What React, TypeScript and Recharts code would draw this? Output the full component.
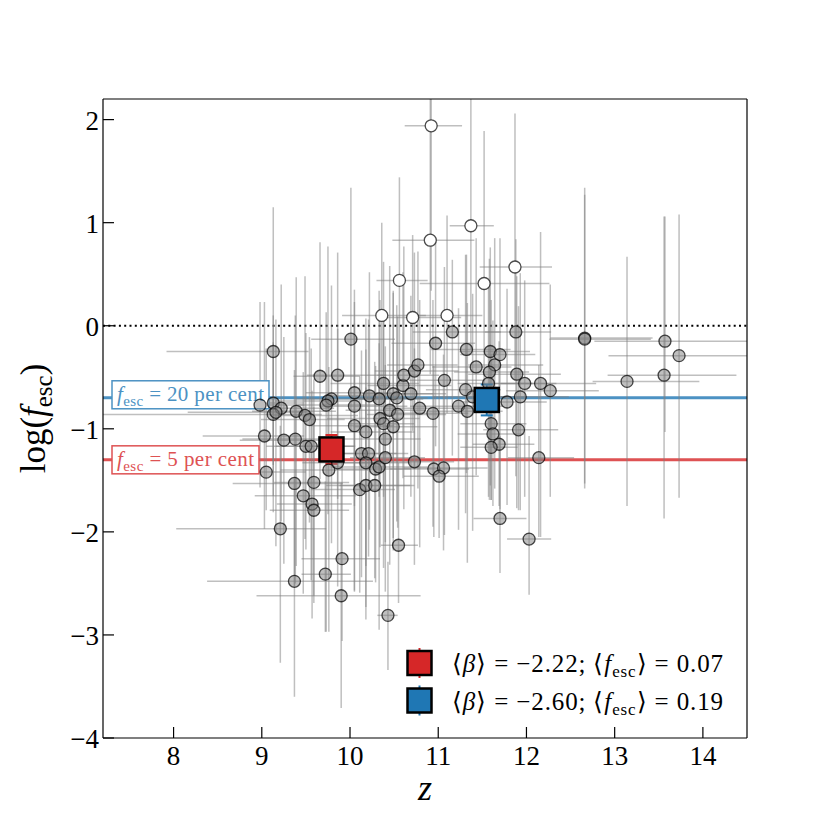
import React from 'react';
import { ComposedChart, Scatter, XAxis, YAxis, ErrorBar, ReferenceLine, Legend } from 'recharts';

const FONT = '"Liberation Serif", "Times New Roman", serif';

const zTicks = [8, 9, 10, 11, 12, 13, 14];
const logTicks = [-4, -3, -2, -1, 0, 1, 2];
const zDomain: [number, number] = [7.2, 14.5];
const logDomain: [number, number] = [-4, 2.2];

// [z, log fesc, z err low, z err high, log err low, log err high] (error bars as seen inside the frame)
const detectedPoints: number[][] = [
  [9.13, -0.25, 1.21, 0.40, 1.10, 1.40],
  [10.01, -0.13, 0.45, 0.50, 0.90, 1.47],
  [9.66, -0.49, 0.30, 0.45, 1.00, 1.30],
  [9.86, -0.48, 0.35, 0.55, 1.20, 1.19],
  [8.98, -0.77, 0.60, 0.50, 0.80, 1.00],
  [9.13, -0.75, 0.80, 0.35, 0.90, 0.85],
  [9.22, -0.80, 0.45, 0.60, 1.10, 1.20],
  [9.13, -0.86, 1.93, 0.55, 0.95, 0.70],
  [9.16, -0.84, 1.00, 0.40, 1.30, 0.90],
  [9.39, -0.83, 0.50, 0.45, 1.50, 1.30],
  [9.49, -0.87, 0.35, 0.60, 1.20, 1.35],
  [9.54, -0.91, 0.55, 0.40, 1.00, 0.80],
  [9.79, -0.71, 0.40, 0.55, 1.40, 1.10],
  [9.75, -0.73, 0.60, 0.35, 1.10, 1.50],
  [9.73, -0.77, 0.35, 0.60, 2.20, 0.90],
  [10.05, -0.65, 0.55, 0.45, 1.10, 1.00],
  [10.05, -0.78, 0.40, 0.60, 1.80, 0.80],
  [10.22, -0.68, 0.45, 0.35, 1.30, 1.20],
  [10.33, -0.71, 0.30, 0.50, 0.95, 1.05],
  [10.38, -0.56, 0.60, 0.40, 1.10, 1.18],
  [10.49, -0.66, 0.35, 0.45, 1.40, 1.00],
  [10.53, -0.70, 0.50, 0.35, 1.20, 0.90],
  [10.60, -0.58, 0.40, 0.55, 0.90, 1.10],
  [10.61, -0.48, 0.30, 0.40, 1.30, 1.25],
  [10.73, -0.44, 0.45, 0.50, 0.95, 1.15],
  [10.77, -0.38, 0.35, 0.45, 1.20, 1.10],
  [10.69, -0.66, 0.55, 0.40, 1.00, 0.95],
  [10.79, -0.80, 0.40, 0.60, 1.35, 1.05],
  [10.45, -0.82, 0.50, 0.40, 1.50, 1.40],
  [10.54, -0.86, 0.35, 0.55, 1.10, 0.95],
  [10.34, -0.90, 0.60, 0.45, 1.25, 1.15],
  [10.38, -0.95, 0.40, 0.35, 1.40, 1.00],
  [10.49, -0.98, 0.45, 0.50, 1.20, 1.30],
  [10.40, -1.10, 0.55, 0.40, 1.00, 0.90],
  [10.18, -1.03, 0.40, 0.55, 1.30, 1.10],
  [10.05, -0.97, 0.50, 0.45, 1.60, 1.20],
  [10.94, -0.85, 0.45, 0.40, 1.10, 1.10],
  [9.03, -1.07, 0.70, 0.45, 0.90, 1.30],
  [9.25, -1.11, 0.50, 0.60, 1.20, 1.00],
  [9.38, -1.10, 0.60, 0.40, 1.40, 1.20],
  [9.50, -1.17, 0.45, 0.55, 1.00, 1.10],
  [9.56, -1.17, 0.40, 0.50, 1.30, 0.95],
  [10.13, -1.24, 0.45, 0.40, 1.20, 1.00],
  [10.21, -1.24, 0.50, 0.45, 1.00, 1.30],
  [10.18, -1.33, 0.35, 0.50, 1.40, 1.10],
  [10.29, -1.39, 0.45, 0.40, 1.10, 1.00],
  [10.33, -1.37, 0.55, 0.55, 1.58, 1.20],
  [10.40, -1.28, 0.40, 0.45, 1.30, 0.90],
  [10.73, -1.32, 0.50, 0.45, 1.00, 1.10],
  [9.76, -1.40, 0.55, 0.45, 1.57, 1.00],
  [9.86, -1.33, 0.40, 0.50, 1.20, 1.30],
  [10.95, -1.39, 0.50, 0.40, 0.66, 1.00],
  [11.06, -1.38, 0.45, 0.50, 0.80, 1.10],
  [11.01, -1.46, 0.40, 0.45, 0.60, 0.90],
  [10.11, -1.59, 0.55, 0.40, 1.00, 1.10],
  [10.18, -1.55, 0.45, 0.50, 1.30, 0.95],
  [10.28, -1.55, 0.40, 0.45, 0.90, 1.20],
  [9.05, -1.42, 0.75, 0.45, 0.37, 1.20],
  [9.37, -1.53, 0.70, 0.55, 1.00, 1.10],
  [9.59, -1.52, 0.45, 0.40, 1.10, 1.00],
  [9.47, -1.65, 0.55, 0.60, 0.95, 1.20],
  [9.57, -1.73, 0.40, 0.45, 1.11, 1.10],
  [9.59, -1.79, 0.50, 0.40, 0.90, 1.00],
  [9.21, -1.97, 1.18, 0.52, 1.30, 1.00],
  [9.91, -2.26, 0.46, 0.43, 0.80, 1.00],
  [9.72, -2.41, 0.27, 0.29, 0.56, 0.90],
  [9.37, -2.48, 0.99, 0.89, 1.12, 1.00],
  [9.90, -2.62, 0.96, 0.90, 1.09, 1.10],
  [10.55, -2.13, 0.20, 0.22, 0.56, 0.80],
  [10.43, -2.81, 0.12, 0.11, 0.53, 0.52],
  [10.97, -0.17, 0.50, 0.45, 1.00, 1.00],
  [11.16, -0.06, 0.45, 0.55, 1.20, 0.70],
  [11.88, -0.06, 0.35, 0.40, 1.40, 0.90],
  [11.32, -0.23, 0.40, 0.50, 1.20, 0.92],
  [11.59, -0.25, 0.35, 0.45, 1.30, 1.01],
  [11.70, -0.28, 0.45, 0.40, 1.50, 1.13],
  [11.64, -0.38, 0.30, 0.55, 1.20, 1.23],
  [11.43, -0.40, 0.50, 0.40, 1.05, 1.25],
  [11.58, -0.45, 0.40, 0.45, 1.24, 1.10],
  [11.89, -0.47, 0.55, 0.50, 1.30, 0.95],
  [11.98, -0.56, 0.40, 0.36, 1.10, 1.00],
  [12.16, -0.56, 0.45, 0.63, 1.49, 1.47],
  [12.27, -0.63, 0.50, 0.55, 1.03, 1.03],
  [11.07, -0.53, 0.40, 0.45, 1.50, 1.10],
  [11.31, -0.62, 0.45, 0.40, 1.20, 1.31],
  [11.57, -0.56, 0.35, 0.50, 1.10, 1.00],
  [11.39, -0.69, 0.45, 0.40, 1.30, 1.00],
  [11.93, -0.69, 0.40, 0.55, 1.10, 1.20],
  [11.78, -0.74, 0.50, 0.45, 1.00, 1.10],
  [11.23, -0.78, 0.55, 0.50, 1.20, 0.95],
  [11.33, -0.83, 0.45, 0.40, 1.47, 1.05],
  [11.60, -0.95, 0.35, 0.40, 0.74, 1.20],
  [11.62, -1.05, 0.40, 0.35, 0.70, 1.10],
  [11.69, -1.15, 0.30, 0.40, 0.60, 1.00],
  [11.60, -1.18, 0.35, 0.30, 0.51, 0.90],
  [11.91, -1.01, 0.40, 0.45, 0.78, 1.20],
  [12.14, -1.28, 0.35, 0.40, 0.77, 0.90],
  [11.70, -1.87, 0.30, 0.30, 0.53, 0.80],
  [12.03, -2.07, 0.25, 0.25, 0.54, 1.00],
  [12.66, -0.12, 0.39, 0.77, 1.46, 1.46],
  [12.66, -0.13, 0.40, 0.75, 1.40, 1.40],
  [13.57, -0.15, 0.80, 0.93, 0.88, 1.21],
  [13.73, -0.29, 0.80, 0.77, 1.38, 1.37],
  [13.56, -0.48, 0.64, 0.82, 1.39, 1.54],
  [13.14, -0.54, 0.39, 0.82, 1.21, 1.21],
];

const openPoints: number[][] = [
  [10.92, 1.94, 0.30, 0.35, 1.60, 0.26],
  [10.91, 0.83, 0.43, 0.50, 1.30, 1.37],
  [11.37, 0.97, 0.24, 0.26, 1.20, 1.23],
  [10.56, 0.44, 0.26, 0.32, 1.00, 1.00],
  [11.52, 0.41, 0.73, 0.74, 1.20, 1.48],
  [11.87, 0.57, 0.40, 0.42, 1.10, 1.49],
  [10.36, 0.10, 0.45, 0.50, 1.00, 0.90],
  [10.71, 0.08, 0.30, 0.55, 1.10, 0.80],
  [11.10, 0.10, 0.45, 0.40, 0.95, 0.97],
];

const redStack: number[][] = [[9.79, -1.20, 0, 0, 0.14, 0.14]];
const blueStack: number[][] = [[11.55, -0.72, 0, 0, 0.15, 0.15]];

const fesc20 = Math.log10(0.2);
const fesc5 = Math.log10(0.05);

const RED = '#d62728';
const BLUE = '#1f77b4';
const RED_LINE = '#de5253';
const BLUE_LINE = '#4c92c3';

const legendRows = [
  { color: RED, beta: '−2.22', fesc: '0.07' },
  { color: BLUE, beta: '−2.60', fesc: '0.19' },
];

const toRows = (arr: number[][]) =>
  arr.map(([z, f, zlo, zhi, flo, fhi]) => ({ z, f, ez: [zlo, zhi], ef: [flo, fhi] }));

const fmt = (v: number) => (v < 0 ? '−' + Math.abs(v) : String(v));

const BottomTick = (props: any) => {
  const { x, y, payload } = props;
  return (
    <g>
      <line x1={x} x2={x} y1={y} y2={y - 11} stroke="#000" strokeWidth={1.2} />
      <text x={x} y={y + 27} textAnchor="middle" fontFamily={FONT} fontSize={27} fill="#000">
        {payload.value}
      </text>
    </g>
  );
};

const TopTick = (props: any) => {
  const { x, y } = props;
  return <line x1={x} x2={x} y1={y} y2={y + 11} stroke="#000" strokeWidth={1.2} />;
};

const LeftTick = (props: any) => {
  const { x, y, payload } = props;
  return (
    <g>
      <line x1={x} x2={x + 11} y1={y} y2={y} stroke="#000" strokeWidth={1.2} />
      <text x={x - 4} y={y + 10} textAnchor="end" fontFamily={FONT} fontSize={27} fill="#000">
        {fmt(payload.value)}
      </text>
    </g>
  );
};

const BoxLabel = (props: any) => {
  const { viewBox, text, color, width, boxDy, textDy, textLen } = props;
  const x = viewBox.x + 9;
  const y = viewBox.y;
  return (
    <g>
      <rect x={x} y={y + boxDy} width={width} height={28} fill="#fff" stroke={color} strokeWidth={1.5} />
      <text x={x + 5} y={y + textDy} fontFamily={FONT} fontSize={21} fill={color} textLength={textLen} lengthAdjust="spacing">
        <tspan fontStyle="italic">f</tspan>
        <tspan fontSize={15} dy={5}>esc</tspan>
        <tspan dy={-5}>{text}</tspan>
      </text>
    </g>
  );
};

const XLabel = (props: any) => {
  const { viewBox } = props;
  return (
    <text x={viewBox.x + viewBox.width / 2} y={viewBox.y + 62} textAnchor="middle" fontFamily={FONT} fontStyle="italic" fontSize={36} fill="#000">
      z
    </text>
  );
};

const YLabel = (props: any) => {
  const { viewBox } = props;
  const cx = viewBox.x + viewBox.width - 58;
  const cy = viewBox.y + viewBox.height / 2;
  return (
    <text x={cx} y={cy} transform={`rotate(-90, ${cx}, ${cy})`} textAnchor="middle" fontFamily={FONT} fontSize={35} fill="#000">
      log(<tspan fontStyle="italic">f</tspan>
      <tspan fontSize={25} dy={7}>esc</tspan>
      <tspan dy={-7}>)</tspan>
    </text>
  );
};

const circleShape = (fill: string, fillOpacity: number) => (props: any) => {
  const { cx, cy } = props;
  if (cx == null || cy == null) return <g />;
  return <circle cx={cx} cy={cy} r={6} fill={fill} fillOpacity={fillOpacity} stroke="#000" strokeOpacity={0.7} strokeWidth={1.3} />;
};

const squareShape = (fill: string) => (props: any) => {
  const { cx, cy } = props;
  if (cx == null || cy == null) return <g />;
  return <rect x={cx - 12} y={cy - 12} width={24} height={24} fill={fill} stroke="#000" strokeWidth={2.5} />;
};

const LegendContent = () => (
  <svg width={340} height={84} style={{ display: 'block' }}>
    {legendRows.map((r, i) => {
      const cy = 23 + i * 37.5;
      return (
        <g key={i}>
          <line x1={19.5} x2={19.5} y1={cy - 15} y2={cy + 15} stroke={r.color} strokeWidth={2} />
          <rect x={7.5} y={cy - 12} width={24} height={24} fill={r.color} stroke="#000" strokeWidth={2.5} />
          <text x={52} y={cy + 9} fontFamily={FONT} fontSize={25} fill="#000" textLength={271} lengthAdjust="spacing">
            <tspan>⟨</tspan>
            <tspan fontStyle="italic">β</tspan>
            <tspan>{'⟩ = ' + r.beta + '; ⟨'}</tspan>
            <tspan fontStyle="italic">f</tspan>
            <tspan fontSize={17} dy={5}>esc</tspan>
            <tspan dy={-5}>{'⟩ = ' + r.fesc}</tspan>
          </text>
        </g>
      );
    })}
  </svg>
);

export default function App() {
  const detected = toRows(detectedPoints);
  const open = toRows(openPoints);
  const red = toRows(redStack);
  const blue = toRows(blueStack);
  const ebStyle = { stroke: '#808080', strokeOpacity: 0.5, strokeWidth: 1.5 };
  return (
    <div style={{ position: 'absolute', left: 0, top: 0, width: 830, height: 830, background: '#fff' }}>
      <ComposedChart width={830} height={830} margin={{ top: 98, right: 82, bottom: 91, left: 102 }}>
        <XAxis
          xAxisId={0}
          dataKey="z"
          type="number"
          domain={zDomain}
          ticks={zTicks}
          allowDataOverflow
          height={1}
          tickSize={0}
          tickMargin={0}
          tickLine={false}
          tick={<BottomTick />}
          axisLine={{ stroke: '#000', strokeWidth: 1.2 }}
          interval={0}
          label={<XLabel />}
        />
        <XAxis
          xAxisId="top"
          orientation="top"
          type="number"
          domain={zDomain}
          ticks={zTicks}
          allowDataOverflow
          height={1}
          tickSize={0}
          tickMargin={0}
          tickLine={false}
          tick={<TopTick />}
          axisLine={{ stroke: '#000', strokeWidth: 1.2 }}
          interval={0}
        />
        <YAxis
          yAxisId={0}
          dataKey="f"
          type="number"
          domain={logDomain}
          ticks={logTicks}
          allowDataOverflow
          width={1}
          tickSize={0}
          tickMargin={0}
          tickLine={false}
          tick={<LeftTick />}
          axisLine={{ stroke: '#000', strokeWidth: 1.2 }}
          interval={0}
          label={<YLabel />}
        />
        <YAxis
          yAxisId="right"
          orientation="right"
          type="number"
          domain={logDomain}
          ticks={logTicks}
          allowDataOverflow
          width={1}
          tick={false}
          tickLine={false}
          axisLine={{ stroke: '#000', strokeWidth: 1.2 }}
        />
        <ReferenceLine y={0} stroke="#000" strokeWidth={2} strokeDasharray="2 3.3" />
        <ReferenceLine y={fesc20} stroke={BLUE_LINE} strokeWidth={3} />
        <ReferenceLine y={fesc5} stroke={RED_LINE} strokeWidth={3} />
        <Scatter data={detected} isAnimationActive={false} shape={circleShape('#808080', 0.5)}>
          <ErrorBar dataKey="ez" direction="x" width={0} {...ebStyle} />
          <ErrorBar dataKey="ef" direction="y" width={0} {...ebStyle} />
        </Scatter>
        <Scatter data={open} isAnimationActive={false} shape={circleShape('#ffffff', 1)}>
          <ErrorBar dataKey="ez" direction="x" width={0} {...ebStyle} />
          <ErrorBar dataKey="ef" direction="y" width={0} {...ebStyle} />
        </Scatter>
        <Scatter data={red} isAnimationActive={false} shape={squareShape(RED)}>
          <ErrorBar dataKey="ef" direction="y" width={6} stroke={RED} strokeWidth={2} />
        </Scatter>
        <Scatter data={blue} isAnimationActive={false} shape={squareShape(BLUE)}>
          <ErrorBar dataKey="ef" direction="y" width={6} stroke={BLUE} strokeWidth={2} />
        </Scatter>
        <ReferenceLine
          y={fesc20}
          stroke="none"
          label={(p: any) => <BoxLabel viewBox={p.viewBox} text=" = 20 per cent" color={BLUE_LINE} width={157} boxDy={-17} textDy={3.5} textLen={147} />}
        />
        <ReferenceLine
          y={fesc5}
          stroke="none"
          label={(p: any) => <BoxLabel viewBox={p.viewBox} text=" = 5 per cent" color={RED_LINE} width={147} boxDy={-14} textDy={6.5} textLen={137} />}
        />
        <Legend
          layout="horizontal"
          verticalAlign="middle"
          align="center"
          content={<LegendContent />}
          wrapperStyle={{ position: 'absolute', left: 400, top: 640, width: 340, height: 84 }}
        />
      </ComposedChart>
    </div>
  );
}
